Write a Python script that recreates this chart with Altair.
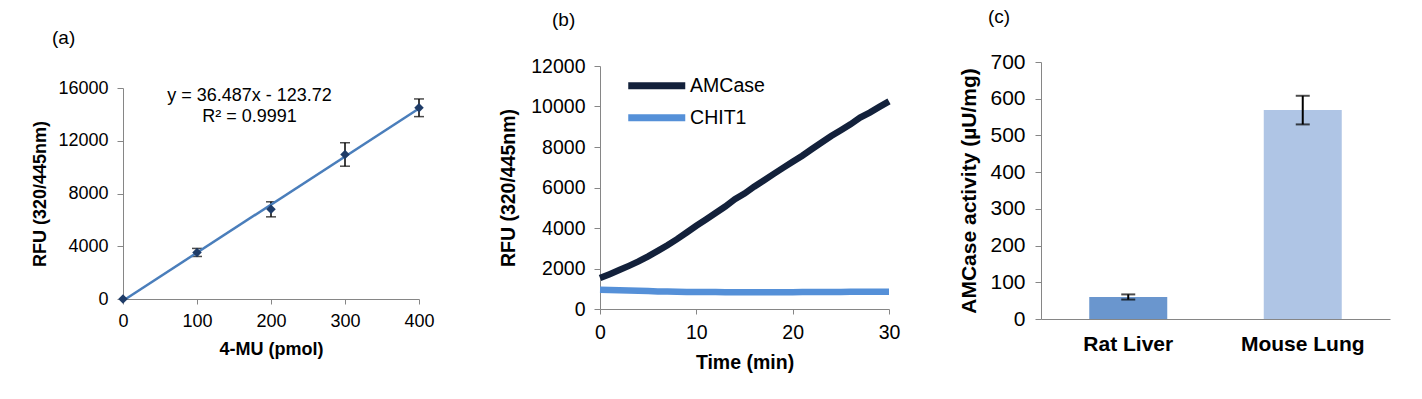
import altair as alt
import pandas as pd

FONT = "Liberation Sans"
AXIS_GRAY = "#868686"

# ---------------- (a) standard curve ----------------
std_pmol = [0, 100, 200, 300, 400]
std_rfu = [0, 3530, 6800, 10960, 14500]
std_err = [0, 305, 570, 890, 670]
eq_text = ["y = 36.487x - 123.72", "R² = 0.9991"]
eq_x = [171, 171]
eq_y = [15390, 13820]

# ---------------- (b) kinetics ----------------
time_min = list(range(31))
amcase = [1530, 1720, 1920, 2130, 2350, 2600, 2870, 3150, 3450, 3780, 4110,
          4420, 4740, 5060, 5420, 5700, 6040, 6350, 6660, 6970, 7270,
          7570, 7900, 8220, 8540, 8830, 9120, 9450, 9700, 9980, 10250]
chit1 = [950, 940, 930, 915, 900, 885, 870, 860, 850, 845, 840,
         838, 835, 832, 830, 828, 828, 828, 830, 830, 832,
         835, 838, 840, 842, 845, 848, 850, 852, 855, 857]
series_names = ["AMCase", "CHIT1"]
series_colors = ["#13213b", "#5590d8"]

# ---------------- (c) activity ----------------
tissues = ["Rat Liver", "Mouse Lung"]
activity = [60, 569]
activity_err = [7, 39]
bar_colors = ["#6a96ce", "#afc5e5"]

H = 257  # common group height


def yaxis(values, title, fs, pad, tpad, offset=0):
    return alt.Axis(values=values, title=title, grid=False, domainColor=AXIS_GRAY,
                    tickColor=AXIS_GRAY, tickSize=6, labelFont=FONT, labelFontSize=fs,
                    labelColor="#000000", labelPadding=pad, titleFont=FONT,
                    titleFontSize=fs, titleFontWeight="bold", titleColor="#000000",
                    titlePadding=tpad, format="d", offset=offset, labelOverlap=False,
                    labelFlush=False)


def xaxis(values, title, fs, offset, pad, tpad):
    return alt.Axis(values=values, title=title, grid=False, domainColor=AXIS_GRAY,
                    tickColor=AXIS_GRAY, tickSize=5, labelFont=FONT, labelFontSize=fs,
                    labelColor="#000000", labelPadding=pad, titleFont=FONT,
                    titleFontSize=fs, titleFontWeight="bold", titleColor="#000000",
                    titlePadding=tpad, offset=offset, labelAngle=0, format="d",
                    labelOverlap=False, labelFlush=False)


def ptitle(text, dx, dy, fs):
    return alt.TitleParams(text=text, anchor="start", frame="group", dx=dx, dy=dy,
                           offset=0, font=FONT, fontSize=fs, fontWeight="normal",
                           color="#000000", baseline="alphabetic")


# ---- panel (a)
df_a = pd.DataFrame({"x": std_pmol, "y": std_rfu, "e": std_err})
scale_ya = alt.Scale(domain=[0, 16000], nice=False, range=[237, 26])
axis_ya = yaxis([0, 4000, 8000, 12000, 16000], "RFU (320/445nm)", 18, 9, 8)
scale_xa = alt.Scale(domain=[0, 400], nice=False)
axis_xa = xaxis([0, 100, 200, 300, 400], "4-MU (pmol)", 18, -20, 8, 10)


def xa(field):
    return alt.X(field, type="quantitative", scale=scale_xa, axis=axis_xa)


def ya(field):
    return alt.Y(field, type="quantitative", scale=scale_ya, axis=axis_ya)


base_a = alt.Chart(df_a)
fit_a = base_a.transform_regression("x", "y", extent=[0, 400]).mark_line(
    color="#4a7ebb", strokeWidth=2.5).encode(x=xa("x"), y=ya("y"))
err_a = base_a.transform_filter("datum.e > 0").transform_calculate(
    lo="datum.y - datum.e", hi="datum.y + datum.e")
err_rule_a = err_a.mark_rule(color="#000000", strokeWidth=1.5).encode(
    x=xa("x"), y=ya("lo"), y2="hi:Q")
err_lo_a = err_a.mark_tick(color="#000000", orient="horizontal", size=10, thickness=1.5).encode(
    x=xa("x"), y=ya("lo"))
err_hi_a = err_a.mark_tick(color="#000000", orient="horizontal", size=10, thickness=1.5).encode(
    x=xa("x"), y=ya("hi"))
pts_a = base_a.mark_point(shape="diamond", filled=True, color="#1f3c68", size=90,
                          opacity=1).encode(x=xa("x"), y=ya("y"))
df_eq = pd.DataFrame({"t": eq_text, "ex": eq_x, "ey": eq_y})
eq_a = alt.Chart(df_eq).mark_text(font=FONT, fontSize=18, color="#000000",
                                  align="center", baseline="middle").encode(
    x=xa("ex"), y=ya("ey"), text="t:N")
panel_a = alt.layer(err_rule_a, err_lo_a, err_hi_a, fit_a, pts_a, eq_a).properties(
    width=296, height=H, title=ptitle("(a)", -71, 1, 19))

# ---- panel (b)
DB = 29  # left inset of panel (b) plot inside its group
rows = []
for name, vals in zip(series_names, [amcase, chit1]):
    for t, v in zip(time_min, vals):
        rows.append({"t": t, "v": v, "s": name})
df_b = pd.DataFrame(rows)
panel_b = alt.Chart(df_b).mark_line(strokeWidth=6.5).encode(
    x=alt.X("t:Q", scale=alt.Scale(domain=[0, 30], nice=False, range=[DB, DB + 289]),
            axis=xaxis([0, 10, 20, 30], "Time (min)", 19.5, -10, 9, 12)),
    y=alt.Y("v:Q", scale=alt.Scale(domain=[0, 12000], nice=False, range=[247, 4]),
            axis=yaxis([0, 2000, 4000, 6000, 8000, 10000, 12000], "RFU (320/445nm)",
                       19.5, 9, 12, offset=-DB)),
    color=alt.Color("s:N", scale=alt.Scale(domain=series_names, range=series_colors),
                    legend=alt.Legend(orient="none", legendX=DB + 47, legendY=14, title=None,
                                      symbolType="M-5,0L5,0", symbolSize=130,
                                      symbolStrokeWidth=7, labelFont=FONT,
                                      labelFontSize=19.5, labelColor="#000000",
                                      labelOffset=23.6, padding=0, rowPadding=3)),
).properties(width=DB + 289, height=H, title=ptitle("(b)", DB - 48, -11, 19))

# ---- panel (c)
df_c = pd.DataFrame({"k": tissues, "v": activity, "e": activity_err})
xc = alt.X("k:N", sort=tissues, scale=alt.Scale(paddingInner=0.1, paddingOuter=0.05),
           axis=alt.Axis(title=None, ticks=False, domainColor=AXIS_GRAY, labelFont=FONT,
                         labelFontSize=21, labelFontWeight="bold", labelColor="#000000",
                         labelPadding=14, labelAngle=0))
scale_yc = alt.Scale(domain=[0, 700], nice=False, range=[257, 0])
axis_yc = yaxis([0, 100, 200, 300, 400, 500, 600, 700], "AMCase activity (µU/mg)", 21, 10, 10)


def yc(field):
    return alt.Y(field, type="quantitative", scale=scale_yc, axis=axis_yc)


base_c = alt.Chart(df_c)
bars_c = base_c.mark_bar(size=78).encode(
    x=xc, y=yc("v"),
    color=alt.Color("k:N", scale=alt.Scale(domain=tissues, range=bar_colors), legend=None))
err_c = base_c.transform_calculate(lo="datum.v - datum.e", hi="datum.v + datum.e")
err_rule_c = err_c.mark_rule(color="#000000", strokeWidth=2).encode(x=xc, y=yc("lo"), y2="hi:Q")
err_lo_c = err_c.mark_tick(color="#000000", orient="horizontal", size=14, thickness=2).encode(
    x=xc, y=yc("lo"))
err_hi_c = err_c.mark_tick(color="#000000", orient="horizontal", size=14, thickness=2).encode(
    x=xc, y=yc("hi"))
panel_c = alt.layer(bars_c, err_rule_c, err_lo_c, err_hi_c).properties(
    width=349, height=H, title=ptitle("(c)", -53, -9, 19))

chart = alt.hconcat(panel_a, panel_b, panel_c, spacing=152, bounds="flush").properties(
    padding={"left": 23, "top": 0, "right": 10, "bottom": 10},
).resolve_scale(color="independent").configure_view(stroke=None)

chart.save("out.html", embed_options={"renderer": "svg", "actions": False})
